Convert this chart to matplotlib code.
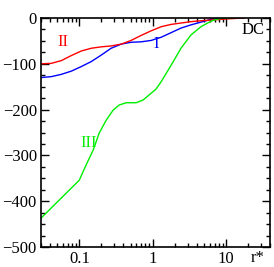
import matplotlib
matplotlib.use('Agg')
import matplotlib.pyplot as plt
from matplotlib.ticker import LogLocator, MultipleLocator, NullFormatter

plt.rcParams['font.family'] = ['Liberation Serif', 'DejaVu Serif']

# curve I (blue)
r_I = [0.03, 0.0416, 0.0569, 0.0778, 0.1065, 0.146, 0.199, 0.272, 0.373, 0.509,
       0.698, 0.955, 1.31, 1.79, 2.44, 3.34, 4.57, 6.25, 7.78, 8.55]
u_I = [-130, -128, -123, -116, -106, -95, -81, -66, -57, -53,
       -52, -49, -42, -32, -22, -15, -9, -3, -1, 0]

# curve II (red)
r_II = [0.03, 0.0416, 0.0569, 0.0778, 0.1065, 0.146, 0.199, 0.272, 0.373, 0.509,
        0.698, 0.955, 1.31, 1.79, 2.44, 3.34, 4.57, 8.55, 11.7, 17.6]
u_II = [-100, -99, -93, -82, -72, -66, -63, -61, -57, -49,
        -38, -28, -19, -14, -11, -8, -6, -3, -1.5, 0]

# curve III (green)
r_III = [0.03, 0.1, 0.1245, 0.155, 0.187, 0.233, 0.290, 0.350, 0.436, 0.597,
         0.743, 0.896, 1.117, 1.31, 1.79, 2.44, 3.34, 4.57, 6.25, 7.78, 8.55, 11.7]
u_III = [-437, -354, -320, -288, -251, -223, -201, -190, -185, -185,
         -179, -168, -155, -139, -103, -66, -37, -19, -7, -2, -1, 0]

fig = plt.figure(figsize=(2.74, 2.67), dpi=100)
ax = fig.add_axes([41/274, 20/267, 229/274, 229/267])

ax.plot(r_I, u_I, color='#0000ff', lw=1)
ax.plot(r_II, u_II, color='#ff0000', lw=1)
ax.plot(r_III, u_III, color='#00ee00', lw=1)

ax.set_xscale('log')
ax.set_xlim(0.03, 40)
ax.set_ylim(-500, 0)
ax.xaxis.set_minor_locator(LogLocator(base=10, subs=range(2, 10), numticks=10))
ax.xaxis.set_minor_formatter(NullFormatter())
ax.set_xticks([0.1, 1, 10])
ax.set_xticklabels(['0.1', '1', '10'])
ax.yaxis.set_major_locator(MultipleLocator(100))
ax.yaxis.set_minor_locator(MultipleLocator(25))

ax.tick_params(which='both', direction='in', top=True, right=True, labelsize=12, width=1)
ax.tick_params(which='major', length=6, pad=3)
ax.tick_params(which='minor', length=3)
for s in ax.spines.values():
    s.set_linewidth(1.2)

ax.text(0.0605, -52, 'II', color='#ff0000', fontsize=12, ha='center', va='center')
ax.text(1.12, -57, 'I', color='#0000ff', fontsize=12, ha='center', va='center')
ax.text(0.132, -273, 'III', color='#00ee00', fontsize=12, ha='center', va='center')
ax.text(23.3, -26, 'DC', color='black', fontsize=12, ha='center', va='center')
ax.text(0.948, -0.015, 'r*', transform=ax.transAxes, fontsize=12, ha='center', va='top')

fig.savefig('out.png', dpi=100)
